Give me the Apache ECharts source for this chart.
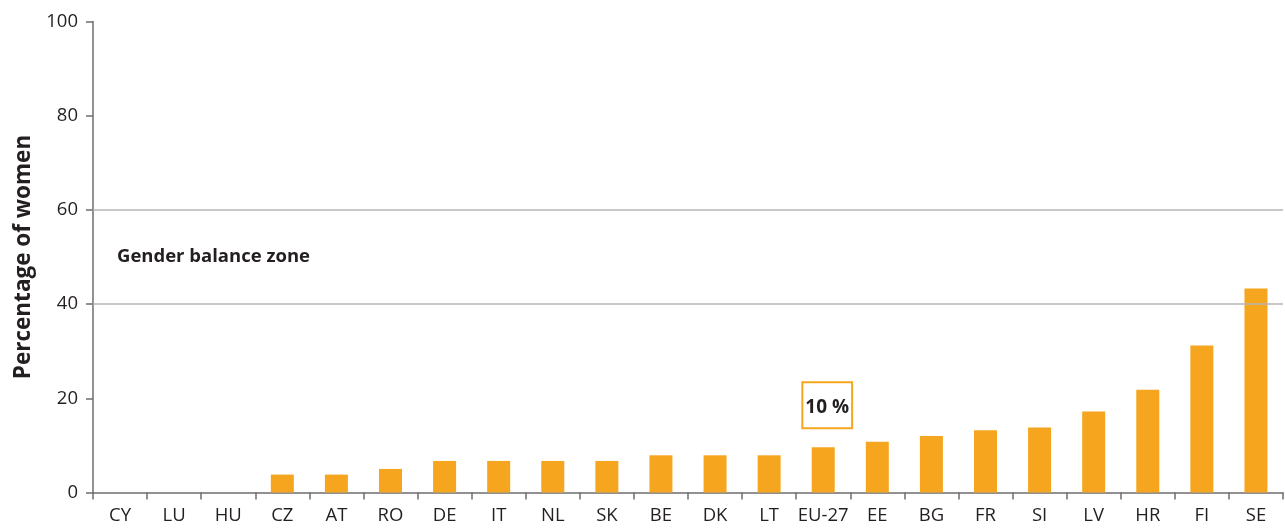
<!DOCTYPE html>
<html>
<head>
<meta charset="utf-8">
<script src="https://cdn.jsdelivr.net/npm/echarts@6/dist/echarts.min.js"></script>
<style>
  html, body { margin: 0; padding: 0; background: #fff; }
  #chart { width: 1285px; height: 530px; }
</style>
</head>
<body>
<div id="chart"></div>
<script>
// country codes, sorted by share of women
var countries = ['CY', 'LU', 'HU', 'CZ', 'AT', 'RO', 'DE', 'IT', 'NL', 'SK', 'BE',
                 'DK', 'LT', 'EU-27', 'EE', 'BG', 'FR', 'SI', 'LV', 'HR', 'FI', 'SE'];
// percentage of women
var womenPct = [0, 0, 0, 3.8, 3.8, 5.0, 6.7, 6.7, 6.7, 6.7, 7.9,
                7.9, 7.9, 9.6, 10.8, 12.0, 13.2, 13.8, 17.2, 21.8, 31.2, 43.3];
var yTicks = [0, 20, 40, 60, 80, 100];
var zoneBounds = [40, 60];
var zoneLabel = 'Gender balance zone';
var euLabel = '10 %';

var orange = '#f6a61e', ink = '#231f20', axisCol = '#6d6e70', gridCol = '#b4b4b4';
var font = '"Open Sans", "Noto Sans", sans-serif';

var barData = womenPct.map(function (v, i) {
    if (countries[i] !== 'EU-27') return v;
    return {
        value: v,
        label: {
            show: true,
            position: 'top',
            distance: 20,
            offset: [4, 0],
            formatter: euLabel,
            fontFamily: font,
            fontSize: 19,
            lineHeight: 22,
            fontWeight: 'bold',
            color: ink,
            borderColor: orange,
            borderWidth: 2,
            padding: [13, 2, 9, 2],
            backgroundColor: '#fff'
        }
    };
});

var chart = echarts.init(document.getElementById('chart'), null, {renderer: 'canvas'});
chart.setOption({
    animation: false,
    grid: {left: 93, right: 2, top: 21.5, bottom: 37.5, containLabel: false},
    xAxis: {
        type: 'category',
        data: countries,
        axisLine: {lineStyle: {color: axisCol, width: 1.5}},
        axisTick: {show: true, length: 7, alignWithLabel: false, lineStyle: {color: axisCol, width: 1.5}},
        axisLabel: {color: ink, fontFamily: font, fontSize: 18.5, margin: 14, interval: 0}
    },
    yAxis: {
        type: 'value',
        min: yTicks[0],
        max: yTicks[yTicks.length - 1],
        interval: yTicks[1] - yTicks[0],
        name: 'Percentage of women',
        nameLocation: 'middle',
        nameGap: 32,
        nameRotate: 90,
        nameTextStyle: {color: ink, fontFamily: font, fontSize: 22.5, fontWeight: 'bold'},
        axisLine: {show: true, lineStyle: {color: axisCol, width: 1.5}},
        axisTick: {show: true, length: 7, lineStyle: {color: axisCol, width: 1.5}},
        axisLabel: {color: ink, fontFamily: font, fontSize: 18.5, margin: 15},
        splitLine: {show: false}
    },
    series: [{
        type: 'bar',
        data: barData,
        barWidth: 23,
        itemStyle: {color: orange},
        markLine: {
            silent: true,
            symbol: 'none',
            label: {show: false},
            lineStyle: {color: gridCol, type: 'solid', width: 1.5},
            data: zoneBounds.map(function (v) { return {yAxis: v}; })
        },
        markArea: {
            silent: true,
            itemStyle: {color: 'rgba(0,0,0,0)'},
            label: {
                show: true,
                position: 'insideLeft',
                distance: 24,
                color: ink,
                fontFamily: font,
                fontSize: 18.5,
                fontWeight: 'bold'
            },
            data: [[{yAxis: zoneBounds[0], name: zoneLabel}, {yAxis: zoneBounds[1]}]]
        }
    }]
});
</script>
</body>
</html>
